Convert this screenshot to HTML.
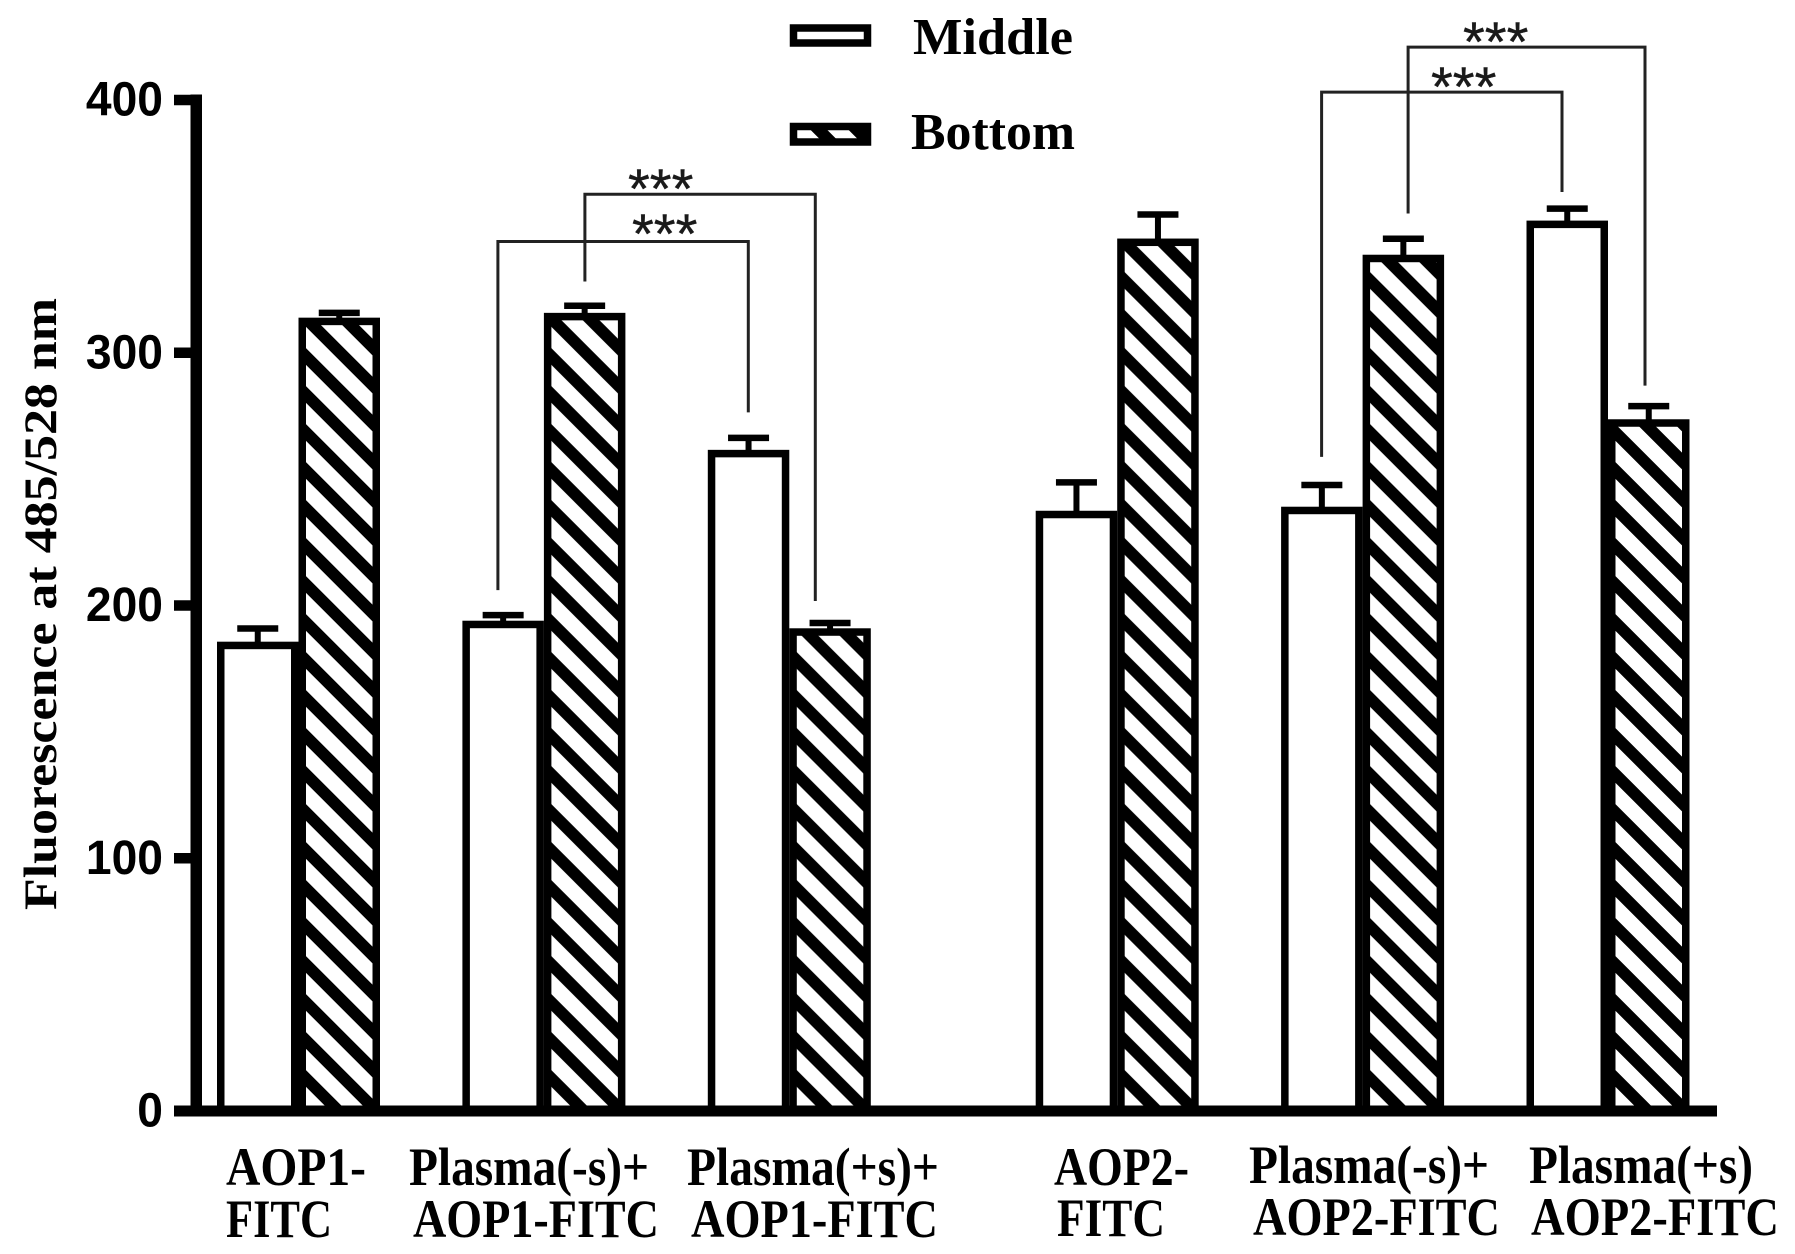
<!DOCTYPE html>
<html>
<head>
<meta charset="utf-8">
<title>Fluorescence chart</title>
<style>
html,body{margin:0;padding:0;background:#fff;}
svg{display:block;}
.cat{font-family:"Liberation Serif",serif;font-weight:bold;font-size:54px;fill:#000;}
.leg{font-family:"Liberation Serif",serif;font-weight:bold;font-size:52px;fill:#000;}
.tick{font-family:"Liberation Sans",sans-serif;font-weight:bold;font-size:48px;fill:#000;text-anchor:end;}
.star{font-family:"Liberation Sans",sans-serif;font-size:56px;fill:#1a1a1a;stroke:#1a1a1a;stroke-width:0.4px;}
</style>
</head>
<body>
<svg id="chart" xmlns="http://www.w3.org/2000/svg" width="1795" height="1254" viewBox="0 0 1795 1254">
  <rect width="1795" height="1254" fill="#fff"/>
  <defs id="defs">
    <pattern id="legend-hatch" patternUnits="userSpaceOnUse" x="823" y="134" width="38" height="38">
      <path d="M-76 -38L38 76M-38 -38L76 76M0 -38L114 76" stroke="#000" stroke-width="11.8" fill="none"/>
    </pattern>
  </defs>
  <g id="bars"></g>
  <g id="brackets"></g>
  <g id="axes"></g>

  <text transform="translate(56,910) rotate(-90)" font-family="Liberation Serif, serif" font-weight="bold" font-size="47" textLength="612" lengthAdjust="spacingAndGlyphs">Fluorescence at 485/528 nm</text>

  <g>
    <rect x="793.5" y="28" width="74" height="15" fill="#fff" stroke="#000" stroke-width="7.5"/>
    <text class="leg" x="913" y="54" textLength="160" lengthAdjust="spacingAndGlyphs">Middle</text>
    <rect x="793.5" y="126.5" width="74" height="15.5" fill="url(#legend-hatch)" stroke="#000" stroke-width="7.5"/>
    <text class="leg" x="911" y="149" textLength="164" lengthAdjust="spacingAndGlyphs">Bottom</text>
  </g>

  <g>
    <text class="cat" x="226" y="1185" textLength="140" lengthAdjust="spacingAndGlyphs">AOP1-</text>
    <text class="cat" x="226" y="1237" textLength="106" lengthAdjust="spacingAndGlyphs">FITC</text>
    <text class="cat" x="409" y="1185" textLength="240" lengthAdjust="spacingAndGlyphs">Plasma(-s)+</text>
    <text class="cat" x="413" y="1237" textLength="246" lengthAdjust="spacingAndGlyphs">AOP1-FITC</text>
    <text class="cat" x="687" y="1185" textLength="252" lengthAdjust="spacingAndGlyphs">Plasma(+s)+</text>
    <text class="cat" x="691" y="1237" textLength="247" lengthAdjust="spacingAndGlyphs">AOP1-FITC</text>
    <text class="cat" x="1054" y="1185" textLength="135" lengthAdjust="spacingAndGlyphs">AOP2-</text>
    <text class="cat" x="1057" y="1236" textLength="108" lengthAdjust="spacingAndGlyphs">FITC</text>
    <text class="cat" x="1249" y="1183" textLength="240" lengthAdjust="spacingAndGlyphs">Plasma(-s)+</text>
    <text class="cat" x="1253" y="1235" textLength="247" lengthAdjust="spacingAndGlyphs">AOP2-FITC</text>
    <text class="cat" x="1529" y="1183" textLength="224" lengthAdjust="spacingAndGlyphs">Plasma(+s)</text>
    <text class="cat" x="1531" y="1235" textLength="248" lengthAdjust="spacingAndGlyphs">AOP2-FITC</text>
  </g>

  <g>
    <text class="star" x="628" y="208">***</text>
    <text class="star" x="632" y="253">***</text>
    <text class="star" x="1463" y="61">***</text>
    <text class="star" x="1431" y="106">***</text>
  </g>
</svg>
<script>
// Chart data
var categories = ["AOP1-FITC", "Plasma(-s)+AOP1-FITC", "Plasma(+s)+AOP1-FITC", "AOP2-FITC", "Plasma(-s)+AOP2-FITC", "Plasma(+s)AOP2-FITC"];
var middleValues = [184.2, 192.5, 260.1, 236, 237.6, 350.8];
var middleErrors = [6.7, 3.7, 6.2, 12.7, 10.1, 6.2];
var bottomValues = [312.4, 314.3, 189.5, 343.7, 337.3, 272.2];
var bottomErrors = [3.4, 4.3, 3.6, 11, 7.8, 6.7];
var yTicks = [0, 100, 200, 300, 400];
var bracketLevels = [344, 362.7, 403.1, 420.9];
var bracketLeftEnds = [206.1, 328.2, 258.8, 355.1];
var bracketRightEnds = [276.4, 201.8, 363.6, 287];

var svg = document.getElementById('chart');
var NS = 'http://www.w3.org/2000/svg';
var barsG = document.getElementById('bars');
var axesG = document.getElementById('axes');
var bracketsG = document.getElementById('brackets');
var defs = document.getElementById('defs');

// Axis functions
function yScale(v) { return 1111 - v * 2.5275; }
function bandX(i) { return 298.5 + 245.4 * i + (i >= 3 ? 82.5 : 0); }
var BAR_W = 81.5;
var STROKE = 7.5;

function make(tag, attrs, parent) {
  var n = document.createElementNS(NS, tag);
  for (var k in attrs) { n.setAttribute(k, attrs[k]); }
  parent.appendChild(n);
  return n;
}

function drawBar(left, value, err, fill, kind, i) {
  var top = yScale(value);
  var base = yScale(0);
  var cx = left + BAR_W / 2;
  var capY = yScale(value + err);
  var stem = make('line', {x1: cx, x2: cx, y1: capY, y2: top, stroke: '#000', 'stroke-width': 6}, barsG);
  
  
  var cap = make('line', {x1: cx - 20.5, x2: cx + 20.5, y1: capY, y2: capY, stroke: '#000', 'stroke-width': 6.5}, barsG);
  
  
  var bar = make('rect', {x: left + STROKE / 2, y: top, width: BAR_W - STROKE, height: base - top, fill: fill, stroke: '#000', 'stroke-width': STROKE}, barsG);
  
  
}

categories.forEach(function (c, i) {
  var b = bandX(i);
  drawBar(b - BAR_W, middleValues[i], middleErrors[i], '#fff', 'middle', i);
  var pid = 'hatch-' + i;
  var p = make('pattern', {id: pid, patternUnits: 'userSpaceOnUse', x: b + 35, y: yScale(0) - 5, width: 38, height: 38}, defs);
  make('path', {d: 'M-76 -38L38 76M-38 -38L76 76M0 -38L114 76', stroke: '#000', 'stroke-width': 11.8, fill: 'none'}, p);
  drawBar(b, bottomValues[i], bottomErrors[i], 'url(#' + pid + ')', 'bottom', i);
});

// Brackets: each joins the bars of two conditions
var bracketLeftX = [bandX(1) - 46, bandX(1) + 41, bandX(4) - 41, bandX(4) + 45.5];
var bracketRightX = [bandX(2) - 41, bandX(2) + 26, bandX(5) - 46, bandX(5) + 37];
bracketLevels.forEach(function (lvl, i) {
  var d = 'M' + bracketLeftX[i] + ' ' + yScale(bracketLeftEnds[i]) +
          'V' + yScale(lvl) + 'H' + bracketRightX[i] + 'V' + yScale(bracketRightEnds[i]);
  var br = make('path', {d: d, fill: 'none', stroke: '#222', 'stroke-width': 3}, bracketsG);
  
  
});

// Axes
var yLine = make('rect', {x: 190.5, y: yScale(400) - 5.5, width: 11.5, height: yScale(0) - yScale(400) + 11}, axesG);


var xLine = make('rect', {x: 174, y: yScale(0) - 5.5, width: 1543, height: 11}, axesG);



yTicks.forEach(function (t) {
  var mark = make('rect', {x: 174, y: yScale(t) - 5.25, width: 18, height: 10.5}, axesG);
  
  
  var label = String(t);
  var lab = make('text', {x: 163, y: yScale(t) + 15.5, 'class': 'tick', textLength: label.length * 25.7, lengthAdjust: 'spacingAndGlyphs'}, axesG);
  
  
  lab.textContent = label;
});
</script>
</body>
</html>
